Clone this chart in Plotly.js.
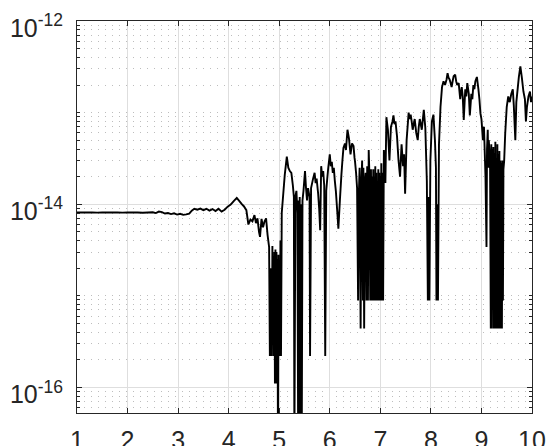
<!DOCTYPE html>
<html><head><meta charset="utf-8">
<script src="https://cdn.plot.ly/plotly-3.0.1.min.js"></script>
<style>html,body{margin:0;padding:0;background:#fff;overflow:hidden}</style>
</head><body><div id="chart" style="width:549px;height:446px"></div>
<script>
const xTicks = [1, 2, 3, 4, 5, 6, 7, 8, 9, 10];
const yMajorTicks = [1e-16, 1e-14, 1e-12];
const yMajorLabels = ['10<sup>-16</sup>', '10<sup>-14</sup>', '10<sup>-12</sup>'];

// [x, value] pairs
const samples = [
  [1.00, 8.10e-15], [1.10, 8.10e-15], [1.20, 8.12e-15], [1.30, 8.10e-15], [1.40, 8.08e-15],
  [1.50, 8.10e-15], [1.60, 8.12e-15], [1.70, 8.10e-15], [1.80, 8.10e-15], [1.90, 8.08e-15],
  [2.00, 8.10e-15], [2.10, 8.12e-15], [2.20, 8.10e-15], [2.30, 8.05e-15], [2.40, 8.10e-15],
  [2.50, 8.15e-15], [2.56, 8.00e-15], [2.62, 8.30e-15], [2.68, 8.20e-15], [2.74, 7.90e-15],
  [2.80, 8.00e-15], [2.86, 7.80e-15], [2.92, 7.95e-15], [2.98, 7.70e-15], [3.04, 7.85e-15],
  [3.10, 7.65e-15], [3.16, 7.75e-15], [3.22, 7.90e-15], [3.27, 8.50e-15], [3.32, 8.90e-15],
  [3.38, 8.70e-15], [3.44, 8.95e-15], [3.50, 8.60e-15], [3.56, 8.90e-15], [3.62, 8.50e-15],
  [3.68, 8.85e-15], [3.74, 8.40e-15], [3.80, 8.90e-15], [3.86, 8.30e-15], [3.92, 8.70e-15],
  [3.98, 9.40e-15], [4.04, 9.90e-15], [4.10, 1.08e-14], [4.16, 1.17e-14], [4.20, 1.10e-14],
  [4.26, 1.00e-14], [4.30, 9.50e-15], [4.35, 8.60e-15], [4.39, 6.00e-15], [4.43, 6.80e-15],
  [4.47, 6.50e-15], [4.51, 7.60e-15], [4.54, 6.20e-15], [4.57, 7.00e-15], [4.60, 5.00e-15],
  [4.62, 4.40e-15], [4.65, 6.90e-15], [4.68, 5.60e-15], [4.71, 6.50e-15], [4.74, 7.00e-15],
  [4.77, 4.60e-15], [4.80, 3.40e-15], [4.815, 2.2e-16], [4.825, 2.0e-15], [4.835, 2.2e-16],
  [4.845, 1.5e-15], [4.855, 2.2e-16], [4.865, 3.5e-15], [4.875, 6.0e-16], [4.885, 2.5e-15],
  [4.895, 2.2e-16], [4.905, 3.0e-15], [4.915, 1.1e-16], [4.925, 3.2e-15], [4.935, 1.1e-16],
  [4.945, 3.0e-15], [4.955, 1.1e-16], [4.965, 2.5e-15], [4.975, 2.0e-17], [4.985, 2.8e-15],
  [4.995, 2.2e-16], [5.005, 1.5e-15], [5.015, 2.2e-16], [5.025, 4.0e-15], [5.035, 2.2e-16],
  [5.05, 8.0e-15], [5.08, 1.3e-14], [5.11, 2.1e-14], [5.15, 3.3e-14], [5.18, 2.5e-14],
  [5.21, 2.3e-14], [5.24, 2.2e-14], [5.27, 1.6e-14], [5.29, 1.2e-14], [5.30, 2.0e-17],
  [5.32, 1.2e-14], [5.34, 1.4e-14], [5.36, 8.0e-15], [5.375, 2.0e-17], [5.385, 1.1e-14],
  [5.395, 2.0e-17], [5.405, 1.2e-14], [5.415, 2.0e-17], [5.43, 1.0e-14], [5.445, 2.0e-17],
  [5.46, 1.1e-14], [5.48, 1.4e-14], [5.51, 2.3e-14], [5.53, 1.5e-14], [5.55, 1.1e-14],
  [5.57, 1.5e-14], [5.60, 1.2e-14], [5.61, 2.2e-16], [5.63, 1.5e-14], [5.67, 1.9e-14],
  [5.70, 2.2e-14], [5.72, 1.7e-14], [5.74, 1.9e-14], [5.77, 1.3e-14], [5.79, 9.0e-15],
  [5.81, 5.2e-15], [5.83, 2.6e-14], [5.85, 2.0e-14], [5.87, 2.3e-14], [5.89, 1.6e-14],
  [5.91, 2.2e-16], [5.93, 1.4e-14], [5.95, 1.9e-14], [5.97, 2.5e-14], [6.00, 3.5e-14],
  [6.02, 2.6e-14], [6.04, 2.9e-14], [6.06, 2.2e-14], [6.08, 2.5e-14], [6.10, 1.8e-14],
  [6.12, 1.4e-14], [6.15, 8.0e-15], [6.17, 5.4e-15], [6.20, 1.1e-14], [6.23, 2.1e-14],
  [6.25, 3.0e-14], [6.27, 4.1e-14], [6.30, 4.6e-14], [6.32, 3.9e-14], [6.35, 6.5e-14],
  [6.38, 5.2e-14], [6.41, 3.5e-14], [6.44, 4.6e-14], [6.47, 4.3e-14], [6.49, 3.2e-14],
  [6.50, 2.9e-14], [6.52, 2.2e-14], [6.54, 1.5e-14],
  [6.56, 8.9e-16], [6.575, 1.3e-14], [6.59, 2.5e-14], [6.61, 4.4e-16], [6.625, 1.7e-14],
  [6.64, 3.0e-14], [6.655, 8.9e-16], [6.665, 2.5e-14], [6.68, 4.4e-16], [6.695, 1.7e-14],
  [6.71, 2.2e-14], [6.725, 8.9e-16], [6.74, 2.6e-14], [6.755, 8.9e-16], [6.77, 3.9e-14],
  [6.785, 2.0e-14], [6.80, 8.9e-16], [6.815, 2.4e-14], [6.83, 8.9e-16], [6.84, 2.0e-14],
  [6.85, 8.9e-16], [6.86, 2.4e-14], [6.87, 8.9e-16], [6.88, 2.0e-14], [6.89, 8.9e-16],
  [6.90, 2.6e-14], [6.91, 8.9e-16], [6.92, 2.2e-14], [6.93, 8.9e-16], [6.94, 1.8e-14],
  [6.95, 8.9e-16], [6.96, 2.4e-14], [6.97, 8.9e-16], [6.98, 2.2e-14], [6.99, 8.9e-16],
  [7.00, 2.0e-14], [7.01, 8.9e-16], [7.02, 2.8e-14], [7.03, 8.9e-16], [7.045, 2.2e-14],
  [7.055, 8.9e-16], [7.07, 3.9e-14], [7.10, 1.7e-14], [7.12, 8.9e-14], [7.15, 6.5e-14],
  [7.18, 3.0e-14], [7.21, 7.0e-14], [7.24, 8.0e-14], [7.26, 9.3e-14], [7.28, 7.5e-14],
  [7.30, 8.0e-14], [7.33, 5.5e-14], [7.36, 3.0e-14], [7.39, 2.0e-14], [7.42, 4.5e-14],
  [7.45, 2.6e-14], [7.47, 3.5e-14], [7.49, 1.3e-14], [7.52, 5.0e-14], [7.56, 1.0e-13],
  [7.58, 8.5e-14], [7.60, 9.5e-14], [7.62, 8.0e-14], [7.64, 6.5e-14], [7.68, 8.5e-14],
  [7.71, 6.0e-14], [7.74, 5.0e-14], [7.76, 7.0e-14], [7.78, 8.5e-14], [7.80, 7.5e-14],
  [7.82, 6.5e-14], [7.86, 1.07e-13], [7.89, 6.8e-14], [7.92, 1.8e-14], [7.94, 8.9e-16],
  [7.955, 1.2e-14], [7.97, 8.9e-16], [7.99, 3.0e-14], [8.02, 8.0e-14], [8.05, 9.5e-14],
  [8.08, 5.0e-14], [8.10, 2.5e-14], [8.11, 8.9e-16], [8.125, 1.0e-14], [8.14, 8.9e-16],
  [8.16, 4.5e-14], [8.19, 1.15e-13], [8.22, 1.9e-13], [8.25, 2.2e-13], [8.28, 2.0e-13],
  [8.31, 2.3e-13], [8.33, 2.7e-13], [8.35, 2.4e-13], [8.37, 2.3e-13], [8.39, 2.1e-13],
  [8.41, 1.9e-13], [8.43, 2.2e-13], [8.45, 2.5e-13], [8.48, 2.6e-13], [8.50, 2.2e-13],
  [8.52, 2.0e-13], [8.55, 2.1e-13], [8.58, 1.4e-13], [8.61, 1.9e-13], [8.63, 1.5e-13],
  [8.65, 8.3e-14], [8.68, 1.8e-13], [8.70, 1.5e-13], [8.72, 2.1e-13], [8.75, 1.6e-13],
  [8.77, 9.3e-14], [8.80, 1.6e-13], [8.82, 1.4e-13], [8.84, 2.0e-13], [8.86, 1.8e-13],
  [8.88, 2.2e-13], [8.91, 2.45e-13], [8.94, 1.8e-13], [8.96, 1.4e-13], [8.98, 9.8e-14],
  [9.00, 8.5e-14], [9.03, 5.0e-14], [9.05, 7.0e-14],
  [9.08, 2.0e-14], [9.10, 3.4e-15], [9.11, 4.0e-14], [9.125, 6.5e-14], [9.135, 2.5e-14],
  [9.145, 5.0e-14], [9.17, 3.0e-14], [9.185, 4.4e-16], [9.195, 4.5e-14], [9.205, 4.4e-16],
  [9.215, 4.0e-14], [9.225, 1.7e-15], [9.235, 4.2e-14], [9.245, 4.4e-16], [9.255, 3.6e-14],
  [9.265, 4.4e-16], [9.275, 4.8e-14], [9.285, 4.4e-16], [9.295, 3.2e-14], [9.305, 4.4e-16],
  [9.315, 4.5e-14], [9.325, 4.4e-16], [9.335, 3.5e-14], [9.345, 4.4e-16], [9.355, 3.8e-14],
  [9.365, 4.4e-16], [9.375, 3.0e-14], [9.385, 4.4e-16], [9.395, 2.8e-14], [9.405, 4.4e-16],
  [9.415, 3.0e-14], [9.425, 8.9e-16], [9.435, 2.4e-14], [9.45, 3.0e-14], [9.47, 5.9e-14],
  [9.50, 1.15e-13], [9.53, 1.5e-13], [9.56, 1.3e-13], [9.59, 1.6e-13], [9.62, 1.8e-13],
  [9.64, 1.2e-13], [9.67, 5.0e-14], [9.69, 1.3e-13], [9.72, 1.9e-13], [9.74, 2.45e-13],
  [9.77, 3.2e-13], [9.80, 2.4e-13], [9.83, 1.7e-13], [9.86, 1.4e-13], [9.88, 8.0e-14],
  [9.90, 1.15e-13], [9.93, 1.5e-13], [9.96, 1.7e-13], [9.98, 1.3e-13], [10.00, 1.5e-13]
];
const xVals = samples.map(p => p[0]);
const yVals = samples.map(p => p[1]);

const yMinorTicks = [];
for (let d = -17; d <= -12; d++) {
  for (let k = 1; k <= 9; k++) {
    if (k === 1 && d % 2 === 0) continue;
    yMinorTicks.push(k * Math.pow(10, d));
  }
}

const axisColor = '#262626';
const font = {family: 'Liberation Sans, Arial, sans-serif', size: 25, color: axisColor};

Plotly.newPlot('chart', [{
  x: xVals, y: yVals, type: 'scatter', mode: 'lines',
  line: {color: '#000000', width: 1.9, simplify: false},
  hoverinfo: 'skip'
}], {
  width: 549, height: 446,
  margin: {l: 77, r: 17, t: 21, b: 33},
  paper_bgcolor: '#ffffff', plot_bgcolor: '#ffffff',
  showlegend: false,
  font: font,
  xaxis: {
    range: [1, 10], tickmode: 'array', tickvals: xTicks, ticktext: xTicks.map(String),
    ticks: 'inside', ticklen: 5, tickcolor: axisColor, tickwidth: 1,
    showline: true, linecolor: axisColor, linewidth: 1, mirror: 'ticks',
    showgrid: true, gridcolor: '#dedede', gridwidth: 1, zeroline: false,
    tickfont: font, ticklabelstandoff: 5
  },
  yaxis: {
    type: 'log', range: [-16.28, -12], tickmode: 'array', tickvals: yMajorTicks, ticktext: yMajorLabels,
    ticks: 'inside', ticklen: 5, tickcolor: axisColor, tickwidth: 1,
    showline: true, linecolor: axisColor, linewidth: 1, mirror: 'ticks',
    showgrid: true, gridcolor: '#dedede', gridwidth: 1, zeroline: false,
    tickfont: font, ticklabelshift: 7, ticklabelstandoff: 8, ticklabeloverflow: 'allow',
    minor: {
      tickmode: 'array', tickvals: yMinorTicks, ticks: 'inside', ticklen: 3,
      tickcolor: axisColor, tickwidth: 1,
      showgrid: true, gridcolor: '#bdbdbd', gridwidth: 1, griddash: '1px,6px'
    }
  }
}, {staticPlot: true, displayModeBar: false});
</script>
</body></html>
